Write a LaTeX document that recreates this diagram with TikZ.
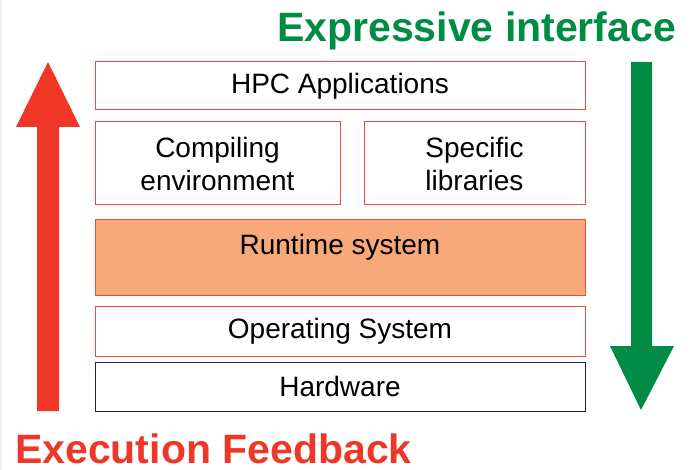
\documentclass[tikz,border=0pt]{standalone}
\usepackage{fontspec}
\setmainfont{Liberation Sans}
\definecolor{layerred}{HTML}{EF4A3A}
\definecolor{runfill}{HTML}{F8A97A}
\definecolor{feedred}{HTML}{EE3726}
\definecolor{exprgreen}{HTML}{008C45}
\definecolor{edgegray}{HTML}{EEEEF4}
\tikzset{
  layer/.style={draw=layerred, line width=1pt, fill=white, inner sep=0pt,
    align=center, font=\fontsize{28}{33}\selectfont, text=black},
  title/.style={font=\fontsize{41}{45}\selectfont\bfseries, inner sep=0pt,
    text depth=0pt, anchor=base west},
}
\begin{document}
\begin{tikzpicture}[x=1pt,y=-1pt]
  \useasboundingbox (0,0) rectangle (696,470);
  \fill[white] (0,0) rectangle (696,470);
  \fill[edgegray] (0,0) rectangle (2,470);

  % software stack
  \node[layer, minimum width=490pt, minimum height=48pt] (hpc) at (340,86) {HPC Applications};
  \node[layer, minimum width=245pt, minimum height=83pt] (comp) at (217.5,163.5) {Compiling\\environment};
  \node[layer, minimum width=221pt, minimum height=83pt] (libs) at (474.5,163.5) {Specific\\libraries};
  \node[layer, fill=runfill, minimum width=490pt, minimum height=76pt] (rt) at (340,258) {};
  \node[font=\fontsize{28}{33}\selectfont, anchor=base, inner sep=0pt] (rtlabel) at (340,255) {Runtime system};
  \node[layer, minimum width=490pt, minimum height=49pt] (os) at (340,331.5) {Operating System};
  \node[layer, draw=black!85, minimum width=490pt, minimum height=49pt] (hw) at (340,386.5) {Hardware};

  % upward feedback arrow
  \fill[feedred] (37,411) -- (37,127) -- (16,127) -- (48,62) -- (80,127) -- (59,127) -- (59,411) -- cycle;
  % downward interface arrow
  \fill[exprgreen] (631,62) -- (631,346) -- (610,346) -- (641,410) -- (674,346) -- (652,346) -- (652,62) -- cycle;

  \node[title, text=exprgreen] (expr) at (277,42) {Expressive interface};
  \node[title, text=feedred] (feed) at (15,463) {Execution Feedback};
\end{tikzpicture}
\end{document}
